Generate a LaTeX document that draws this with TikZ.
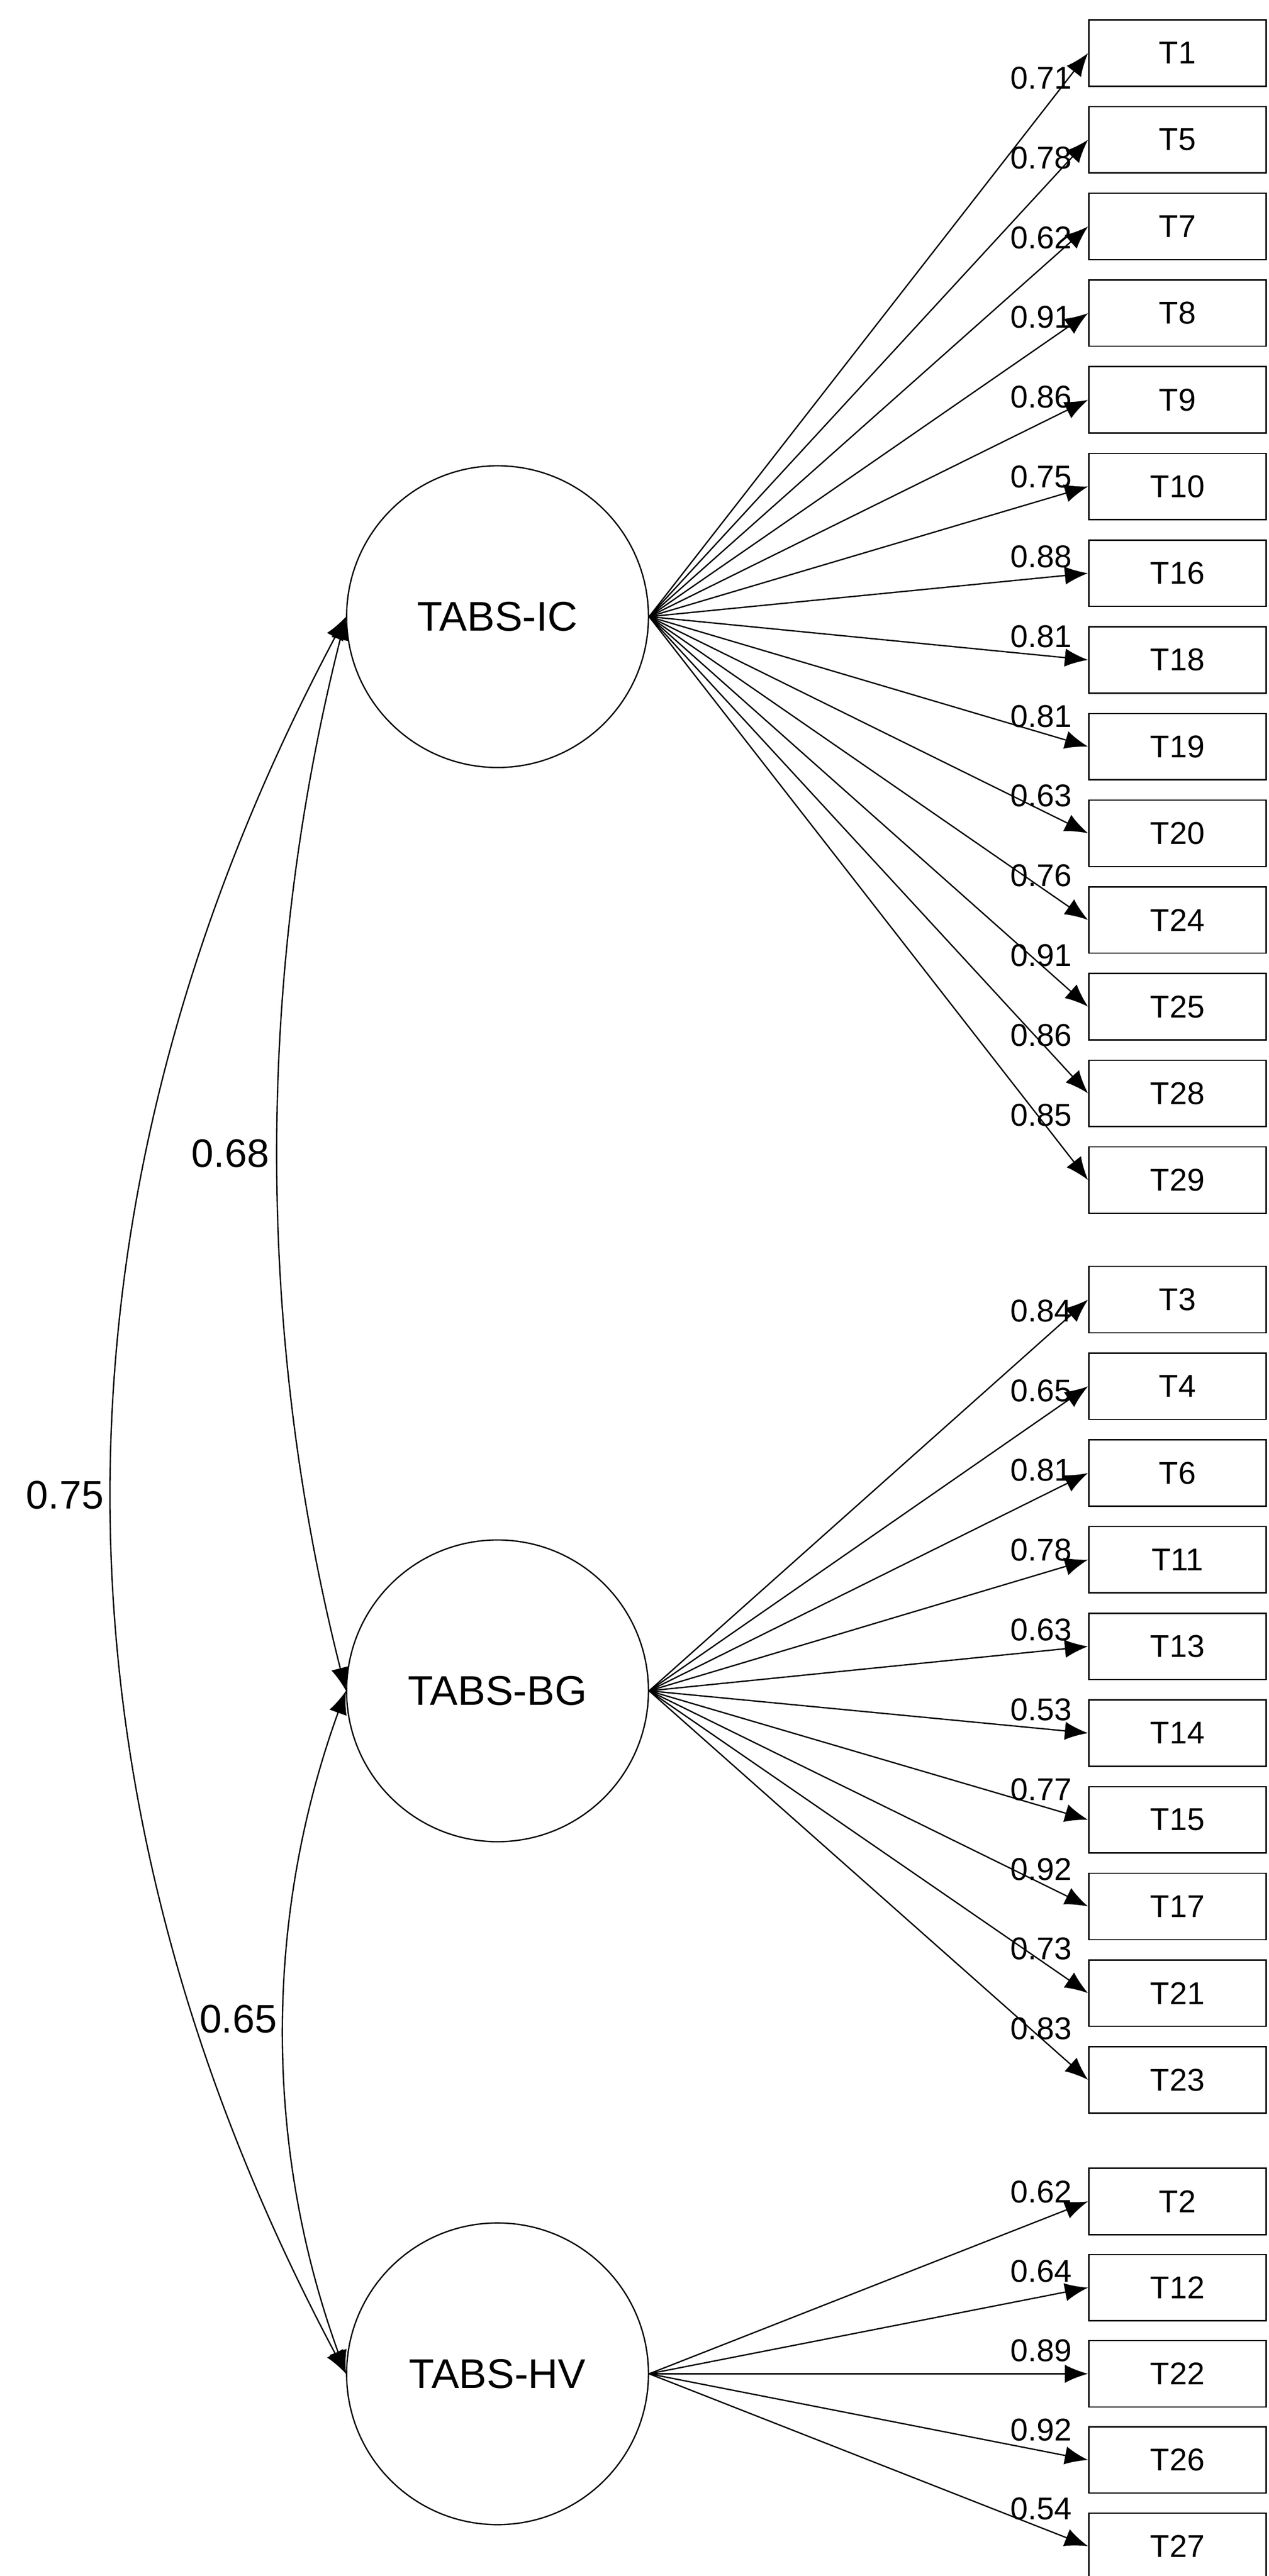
\documentclass[tikz,border=0pt]{standalone}
\usepackage{fontspec}
\setmainfont{Liberation Sans}
\usetikzlibrary{arrows.meta}
\tikzset{%
	factor/.style = {circle,draw,line width=0.8pt,minimum size=182pt,inner sep=0,font=\fontsize{25}{28}\selectfont},
	item/.style = {rectangle,draw,line width=0.8pt,minimum width=107pt,minimum height=40pt,inner sep=0,font=\fontsize{19}{22}\selectfont},
	load/.style = {-{Latex[length=14pt,width=11pt]},line width=0.8pt},
	cov/.style = {{Latex[length=14pt,width=11pt]}-{Latex[length=14pt,width=11pt]},line width=0.8pt},
	val/.style = {font=\fontsize{19}{22}\selectfont,inner sep=1pt},
	rval/.style = {font=\fontsize{24}{28}\selectfont,inner sep=1pt}%
}

\begin{document}
\begin{tikzpicture}[x=1pt,y=-1pt]
			\useasboundingbox (0,0) rectangle (765,1554);
			
			\node(ic)[factor] at (300,372){TABS-IC};
			\node(bg)[factor] at (300,1020){TABS-BG};
			\node(hv)[factor] at (300,1432){TABS-HV};
			
			\foreach \t/\v [count=\i from 0] in {1/0.71,5/0.78,7/0.62,8/0.91,9/0.86,10/0.75,16/0.88,18/0.81,19/0.81,20/0.63,24/0.76,25/0.91,28/0.86,29/0.85}{
				\node(t\t)[item] at (710,32+52.3*\i){T\t};
				\draw[load](ic.east)--(t\t.west) node[pos=0.92,anchor=south,val,yshift=4pt,xshift=-7pt]{\v};
			}
			\foreach \t/\v [count=\i from 0] in {3/0.84,4/0.65,6/0.81,11/0.78,13/0.63,14/0.53,15/0.77,17/0.92,21/0.73,23/0.83}{
				\node(t\t)[item] at (710,784+52.3*\i){T\t};
				\draw[load](bg.east)--(t\t.west) node[pos=0.92,anchor=south,val,yshift=4pt,xshift=-7pt]{\v};
			}
			\foreach \t/\v [count=\i from 0] in {2/0.62,12/0.64,22/0.89,26/0.92,27/0.54}{
				\node(t\t)[item] at (710,1328+52*\i){T\t};
				\draw[load](hv.east)--(t\t.west) node[pos=0.92,anchor=south,val,yshift=6pt,xshift=-7pt]{\v};
			}
			
			\draw[cov](ic.west) .. controls (154,588) and (154,804) .. node[left,rval,xshift=-4pt]{0.68} (bg.west);
			\draw[cov](bg.west) .. controls (159,1157) and (159,1295) .. node[left,rval,xshift=-3pt,yshift=8pt]{0.65} (hv.west);
			\draw[cov](ic.west) .. controls (21,725) and (21,1079) .. node[left,rval,xshift=-4pt]{0.75} (hv.west);
			\end{tikzpicture}
\end{document}
